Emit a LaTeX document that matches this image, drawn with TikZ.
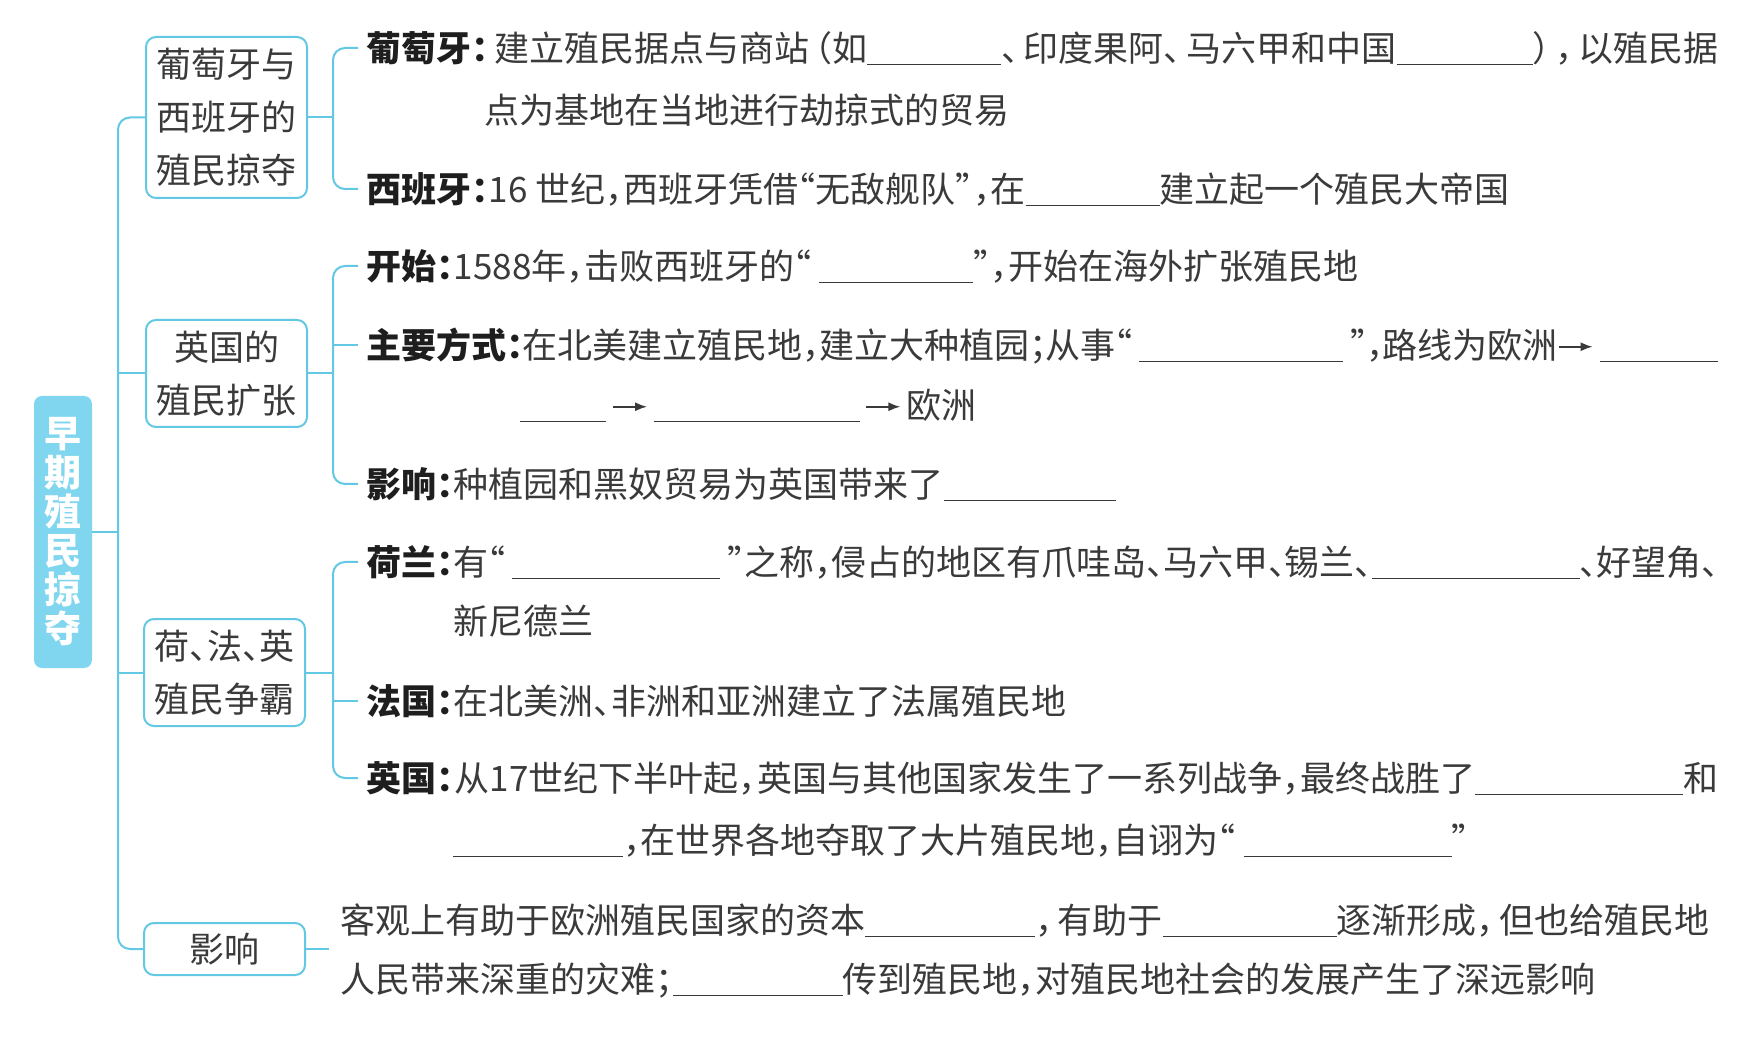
\documentclass[tikz,border=0pt]{standalone}
\usepackage{fontspec}
\setmainfont{Noto Sans CJK SC}
\usepackage{tikz}
\usetikzlibrary{positioning,arrows.meta}
\usepackage{xcolor}

\definecolor{linecol}{HTML}{62C8E4}
\definecolor{rootfill}{HTML}{80D6EE}
\definecolor{textcol}{HTML}{3A3A3A}
\definecolor{labcol}{HTML}{1E1E1E}

\newcommand\bodyfont{\fontsize{17.5pt}{20pt}\selectfont}
\newcommand\boxfont{\fontsize{17.5pt}{26.5pt}\selectfont}
\newcommand\rootfont{\fontsize{18.5pt}{19.5pt}\selectfont\bfseries}
\newcommand\lab[1]{{\bfseries\color{labcol}#1}}
\newcommand\blank[1]{\rule[-2pt]{#1}{0.7pt}}
\newcommand\punl[1]{\makebox[.5em][l]{#1}\hskip 0pt plus 1em minus .1em\relax}
\newcommand\punr[1]{\hskip 0pt plus 1em minus .1em\makebox[.5em][r]{#1}}
\newcommand\just[2]{\makebox[#1][s]{#2}}
\newcommand\toarr{\tikz[baseline=-0.33em]\draw[-{Latex[length=6pt,width=4.5pt]},line width=.8pt,textcol] (0,0) -- (17pt,0);}

\begin{document}
\begin{tikzpicture}[x=0.5pt, y=-0.5pt,
	box/.style={draw=linecol, line width=1pt, rounded corners=5pt, minimum width=80.5pt,
		align=center, font=\boxfont, text=textcol, inner sep=0pt},
	root/.style={fill=rootfill, rounded corners=4pt, minimum width=29pt, minimum height=136pt,
		align=center, text=white, font=\rootfont, inner sep=0pt},
	row/.style={anchor=west, inner sep=0pt, text height=15.4pt, text depth=2.1pt,
		font=\bodyfont, text=textcol},
	conn/.style={draw=linecol, line width=1pt}
]
	\useasboundingbox[fill=white] (0,0) rectangle (1761,1058);

	% Root and the four topic boxes
	\node[root] (root) at (63,532) {早\\期\\殖\\民\\掠\\夺};
	\node[box, minimum height=80.5pt] (pors) at (226.5,117.5) {葡萄牙与\\西班牙的\\殖民掠夺};
	\node[box, minimum height=53.5pt] (eng)  at (226.5,373.5) {英国的\\殖民扩张};
	\node[box, minimum height=53.5pt] (riv)  at (224.5,672.5) {荷\punl{、}法\punl{、}英\\殖民争霸};
	\node[box, minimum height=26pt]   (eff)  at (224.5,949)   {影响};

	% Trunk
	\coordinate (tk) at (118,532);
	\coordinate (kx) at (333,0);
	\draw[conn, rounded corners=6pt] (pors.west) -| (tk) |- (eff.west);
	\draw[conn] (root.east) -- (root.east -| tk);
	\draw[conn] (eng.west) -- (eng.west -| tk);
	\draw[conn] (riv.west) -- (riv.west -| tk);

	% Portugal and Spain
	\node[row] (por1) at (366,48) {\just{676pt}{\lab{葡萄牙\punl{：}}建立殖民据点与商站\punr{（}如\blank{67pt}\punl{、}印度果阿\punl{、}马六甲和中国\blank{68pt}\punl{）}\punl{，}以殖民据}};
	\node[row] (por2) at (484,110) {点为基地在当地进行劫掠式的贸易};
	\node[row] (spa)  at (366,189) {\lab{西班牙\punl{：}}16 世纪\punl{，}西班牙凭借\punr{“}无敌舰队\punl{”}\punl{，}在\blank{67pt}建立起一个殖民大帝国};
	\draw[conn] (pors.east) -- (pors.east -| kx);
	\draw[conn, rounded corners=6pt] ([xshift=-4pt]por1.west) -| (pors.east -| kx) |- ([xshift=-4pt]spa.west);

	% England
	\node[row] (start) at (366,266) {\lab{开始\punl{：}}1588年\punl{，}击败西班牙的\punr{“} \blank{77pt}\punl{”}\punl{，}开始在海外扩张殖民地};
	\node[row] (way1)  at (366,345) {\just{676pt}{\lab{主要方式\punl{：}}在北美建立殖民地\punl{，}建立大种植园\punl{；}从事\punr{“} \blank{102pt} \punl{”}\punl{，}路线为欧洲\toarr\ \blank{59pt}}};
	\node[row] (way2)  at (520,405) {\blank{43pt}\,\toarr\,\blank{103pt}\,\toarr\,欧洲};
	\node[row] (infl)  at (366,484) {\lab{影响\punl{：}}种植园和黑奴贸易为英国带来了\blank{86pt}};
	\draw[conn] (eng.east) -- (eng.east -| kx);
	\draw[conn, rounded corners=6pt] ([xshift=-4pt]start.west) -| (eng.east -| kx) |- ([xshift=-4pt]infl.west);
	\draw[conn] ([xshift=-4pt]way1.west) -- (way1.west -| kx);

	% Rivalry
	\node[row] (ned1) at (366,562) {\just{676pt}{\lab{荷兰\punl{：}}有\punr{“} \blank{104pt} \punl{”}之称\punl{，}侵占的地区有爪哇岛\punl{、}马六甲\punl{、}锡兰\punl{、}\blank{104pt}\punl{、}好望角\punl{、}}};
	\node[row] (ned2) at (453,621) {新尼德兰};
	\node[row] (fra)  at (366,701) {\lab{法国\punl{：}}在北美洲\punl{、}非洲和亚洲建立了法属殖民地};
	\node[row] (brt1) at (366,778) {\just{676pt}{\lab{英国\punl{：}}从17世纪下半叶起\punl{，}英国与其他国家发生了一系列战争\punl{，}最终战胜了\blank{104pt}和}};
	\node[row] (brt2) at (453,840) {\blank{85pt}\punl{，}在世界各地夺取了大片殖民地\punl{，}自诩为\punr{“} \blank{104pt}\punl{”}};
	\draw[conn] (riv.east) -- (riv.east -| kx);
	\draw[conn, rounded corners=6pt] ([xshift=-4pt]ned1.west) -| (riv.east -| kx) |- ([xshift=-4pt]brt1.west);
	\draw[conn] ([xshift=-4pt]fra.west) -- (fra.west -| kx);

	% Effects
	\coordinate (efx) at (329,949);
	\node[row] (eff1) at (340,920) {\just{684.5pt}{客观上有助于欧洲殖民国家的资本\blank{85pt}\punl{，}有助于\blank{87pt}逐渐形成\punl{，}但也给殖民地}};
	\node[row] (eff2) at (340,979) {人民带来深重的灾难\punl{；}\blank{85pt}传到殖民地\punl{，}对殖民地社会的发展产生了深远影响};
	\draw[conn] (eff.east) -- (efx);
\end{tikzpicture}
\end{document}
